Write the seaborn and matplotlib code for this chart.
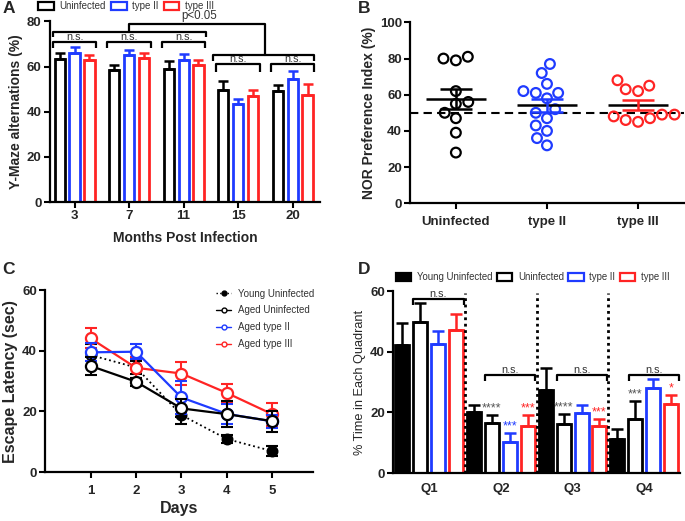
import numpy as np
import pandas as pd
import matplotlib
matplotlib.use('Agg')
import matplotlib.pyplot as plt
import seaborn as sns
from matplotlib.patches import Patch
from matplotlib.lines import Line2D

sns.set_theme(style='ticks')
plt.rcParams['font.family'] = ['Liberation Sans', 'DejaVu Sans']

BLACK = '#000000'
BLUE = '#1f3bff'
RED = '#ff2424'
TXT = '#333333'

# ---------------- Panel A data ----------------
months = ['3', '7', '11', '15', '20']
groups_a = ['Uninfected', 'type II', 'type III']
ymaze_uninf = [63.2, 58.6, 58.9, 49.5, 49.2]
ymaze_t2 = [66.0, 65.3, 63.1, 43.3, 54.3]
ymaze_t3 = [62.7, 63.9, 60.9, 47.0, 47.4]
ymaze_uninf_err = [3.0, 1.9, 3.5, 4.0, 2.8]
ymaze_t2_err = [2.8, 2.1, 2.5, 2.4, 3.7]
ymaze_t3_err = [2.5, 2.0, 1.8, 2.8, 5.0]

# ---------------- Panel B data ----------------
nor_groups = ['Uninfected', 'type II', 'type III']
nor_uninf = [80, 79, 81, 62, 56, 55, 50, 47, 39, 28]
nor_t2 = [77, 72, 66, 62, 61, 61, 58, 52, 50, 47, 43, 40, 36, 32]
nor_t3 = [68, 63, 62, 65, 49, 47, 45, 46, 48, 49]

# ---------------- Panel C data ----------------
days = [1, 2, 3, 4, 5]
c_groups = ['Young Uninfected', 'Aged Uninfected', 'Aged type II', 'Aged type III']
lat_young = [38.6, 34.5, 18.8, 10.9, 6.9]
lat_young_err = [3.5, 2.0, 3.0, 1.3, 1.7]
lat_aged = [35.0, 29.8, 21.0, 19.1, 16.8]
lat_aged_err = [3.0, 1.3, 3.0, 4.2, 3.5]
lat_t2 = [39.5, 39.7, 24.6, 19.2, 16.7]
lat_t2_err = [3.0, 2.5, 5.5, 3.4, 2.2]
lat_t3 = [44.1, 34.4, 32.5, 26.1, 19.1]
lat_t3_err = [3.3, 3.5, 3.7, 3.1, 3.8]

# ---------------- Panel D data ----------------
quadrants = ['Q1', 'Q2', 'Q3', 'Q4']
d_groups = ['Young Uninfected', 'Uninfected', 'type II', 'type III']
quad_young = [42.4, 20.0, 27.4, 11.2]
quad_young_err = [7.1, 2.4, 7.3, 3.5]
quad_uninf = [49.9, 16.6, 16.3, 17.9]
quad_uninf_err = [6.1, 2.7, 3.3, 5.9]
quad_t2 = [42.5, 10.2, 19.7, 28.2]
quad_t2_err = [4.4, 3.1, 2.9, 2.7]
quad_t3 = [47.1, 15.5, 15.5, 22.9]
quad_t3_err = [5.4, 3.8, 2.3, 2.8]
d_stars = [('Q2', 'Uninfected', '****'), ('Q2', 'type II', '***'), ('Q2', 'type III', '***'),
           ('Q3', 'Uninfected', '****'), ('Q3', 'type III', '***'),
           ('Q4', 'Uninfected', '***'), ('Q4', 'type III', '*')]

# ---------------- figure ----------------
fig = plt.figure(figsize=(6.85, 5.21), dpi=100)
axA = fig.add_axes([0.073, 0.612, 0.394, 0.347])
axB = fig.add_axes([0.599, 0.610, 0.399, 0.347])
axC = fig.add_axes([0.066, 0.094, 0.391, 0.349])
axD = fig.add_axes([0.574, 0.092, 0.419, 0.349])

TICKFS = 9.5
LABFS = 10


def style_axes(ax):
    sns.despine(ax=ax)
    for s in ['left', 'bottom']:
        ax.spines[s].set_linewidth(1.6)
        ax.spines[s].set_color('black')
    ax.tick_params(width=1.5, length=4, color='black', labelsize=TICKFS, pad=2)
    for lab in ax.get_xticklabels() + ax.get_yticklabels():
        lab.set_fontweight('bold')


def bracket(ax, x0, x1, y, h, lw=1.6):
    ax.plot([x0, x0, x1, x1], [y - h, y, y, y - h], color='black', lw=lw,
            clip_on=False, solid_capstyle='butt', zorder=5)


# ---------------- Panel A ----------------
pal_a = dict(zip(groups_a, [BLACK, BLUE, RED]))
dfA = pd.DataFrame({
    'month': months * 3,
    'group': np.repeat(groups_a, len(months)),
    'value': ymaze_uninf + ymaze_t2 + ymaze_t3,
})
errs_a = {'Uninfected': ymaze_uninf_err, 'type II': ymaze_t2_err, 'type III': ymaze_t3_err}
sns.barplot(data=dfA, x='month', y='value', hue='group', order=months, hue_order=groups_a,
            palette=pal_a, fill=False, width=0.82, gap=0.32, linewidth=2.0,
            errorbar=None, legend=False, ax=axA)
for cont, g in zip(axA.containers, groups_a):
    for bar, e in zip(cont, errs_a[g]):
        xc = bar.get_x() + bar.get_width() / 2
        axA.errorbar(xc, bar.get_height(), yerr=[[0], [e]], fmt='none', ecolor=pal_a[g],
                     elinewidth=1.8, capsize=3.6, capthick=1.8, zorder=3)
axA.set_xlim(-0.45, 4.5)
axA.set_ylim(0, 80)
axA.set_yticks([0, 20, 40, 60, 80])
axA.set_xlabel('Months Post Infection', fontsize=LABFS, fontweight='bold', labelpad=6)
axA.set_ylabel('Y-Maze alternations (%)', fontsize=LABFS, fontweight='bold', labelpad=3)
style_axes(axA)
# significance brackets
for i in range(3):
    bracket(axA, i - 0.4, i + 0.4, 70.7, 2.6)
    axA.text(i, 70.9, 'n.s.', ha='center', va='bottom', fontsize=7.8, color=TXT)
for i in range(3, 5):
    bracket(axA, i - 0.4, i + 0.4, 61.0, 3.2)
    axA.text(i, 61.2, 'n.s.', ha='center', va='bottom', fontsize=7.8, color=TXT)
bracket(axA, -0.39, 2.41, 75.3, 2.3)
bracket(axA, 2.54, 4.39, 65.0, 2.5)
axA.plot([1.0, 1.0, 3.49, 3.49], [75.3, 79.0, 79.0, 65.0], color='black', lw=1.6, clip_on=False, zorder=5)
axA.text(2.29, 79.6, 'p<0.05', ha='center', va='bottom', fontsize=8.3, color=TXT, clip_on=False)

hA = [Patch(facecolor='white', edgecolor=c, linewidth=1.6) for c in [BLACK, BLUE, RED]]
fig.legend(hA, groups_a, loc='center left', bbox_to_anchor=(0.056, 0.988), ncol=3, frameon=False,
           fontsize=7.0, handlelength=1.6, handleheight=0.9, handletextpad=0.6, columnspacing=0.5,
           labelcolor=TXT, borderaxespad=0, borderpad=0)

# ---------------- Panel B ----------------
pal_b = dict(zip(nor_groups, [BLACK, BLUE, RED]))
dfB = pd.DataFrame({
    'group': ['Uninfected'] * len(nor_uninf) + ['type II'] * len(nor_t2) + ['type III'] * len(nor_t3),
    'value': nor_uninf + nor_t2 + nor_t3,
})
sns.swarmplot(data=dfB, x='group', y='value', hue='group', order=nor_groups, hue_order=nor_groups,
              palette=pal_b, size=7.0, linewidth=1.6, legend=False, ax=axB, zorder=3)
for coll in axB.collections:
    fc = coll.get_facecolor()
    coll.set_edgecolor(fc)
    coll.set_facecolor('none')
    coll.set_linewidth(1.6)
axB.axhline(50, color='black', lw=1.5, ls=(0, (4, 2.5)), zorder=2)
for i, (g, vals) in enumerate(zip(nor_groups, [nor_uninf, nor_t2, nor_t3])):
    v = np.array(vals, dtype=float)
    m = v.mean()
    sem = v.std(ddof=1) / np.sqrt(len(v))
    axB.hlines(m, i - 0.33, i + 0.33, color='black', lw=1.8, zorder=4)
    axB.errorbar(i, m, yerr=sem, fmt='none', ecolor=pal_b[g], elinewidth=1.8,
                 capsize=11.5, capthick=1.8, zorder=4)
axB.set_xlim(-0.5, 2.5)
axB.set_ylim(0, 100)
axB.set_yticks([0, 20, 40, 60, 80, 100])
axB.set_xlabel('')
axB.set_ylabel('NOR Preference Index (%)', fontsize=LABFS, fontweight='bold', labelpad=3)
style_axes(axB)
axB.tick_params(axis='x', pad=5)

# ---------------- Panel C ----------------
dfC = pd.DataFrame({
    'day': days * 4,
    'group': np.repeat(c_groups, len(days)),
    'value': lat_young + lat_aged + lat_t2 + lat_t3,
})
c_cols = dict(zip(c_groups, [BLACK, BLACK, BLUE, RED]))
c_errs = dict(zip(c_groups, [lat_young_err, lat_aged_err, lat_t2_err, lat_t3_err]))
c_z = dict(zip(c_groups, [3, 6, 5, 4]))
for g in c_groups:
    sub = dfC[dfC['group'] == g]
    ls = ':' if g == 'Young Uninfected' else '-'
    sns.lineplot(data=sub, x='day', y='value', color=c_cols[g], linestyle=ls, lw=1.6 if ls == '-' else 1.3,
                 marker='o', markersize=8 if g != 'Young Uninfected' else 7,
                 markerfacecolor='white' if g != 'Young Uninfected' else 'black',
                 markeredgecolor=c_cols[g], markeredgewidth=1.6, errorbar=None, ax=axC, zorder=c_z[g])
    axC.errorbar(sub['day'], sub['value'], yerr=c_errs[g], fmt='none', ecolor=c_cols[g],
                 elinewidth=1.5, capsize=4.3, capthick=1.5, zorder=c_z[g] - 0.5)
axC.set_xlim(0, 5.9)
axC.set_ylim(0, 60)
axC.set_xticks(days)
axC.set_yticks([0, 20, 40, 60])
axC.set_xlabel('Days', fontsize=11.5, fontweight='bold', labelpad=3)
axC.set_ylabel('Escape Latency (sec)', fontsize=11.5, fontweight='bold', labelpad=3)
style_axes(axC)
axC.tick_params(axis='x', pad=5)
hC = [Line2D([0], [0], color=c_cols[g], ls=':' if g == 'Young Uninfected' else '-', lw=1.0,
             marker='o', markersize=3.5, markeredgewidth=1.0, markeredgecolor=c_cols[g],
             markerfacecolor='black' if g == 'Young Uninfected' else 'white') for g in c_groups]
axC.legend(hC, c_groups, loc='upper left', bbox_to_anchor=(0.625, 1.03), frameon=False, fontsize=7.0,
           handlelength=1.5, handletextpad=0.7, labelspacing=0.7, labelcolor=TXT, borderaxespad=0)

# ---------------- Panel D ----------------
pal_d = dict(zip(d_groups, [BLACK, BLACK, BLUE, RED]))
dfD = pd.DataFrame({
    'quadrant': quadrants * 4,
    'group': np.repeat(d_groups, len(quadrants)),
    'value': quad_young + quad_uninf + quad_t2 + quad_t3,
})
d_errs = dict(zip(d_groups, [quad_young_err, quad_uninf_err, quad_t2_err, quad_t3_err]))
sns.barplot(data=dfD, x='quadrant', y='value', hue='group', order=quadrants, hue_order=d_groups,
            palette=pal_d, width=1.0, gap=0.22, linewidth=2.0, errorbar=None, legend=False, ax=axD)
bar_tops = {}
for cont, g in zip(axD.containers, d_groups):
    for bar, e, q in zip(cont, d_errs[g], quadrants):
        if g == 'Young Uninfected':
            bar.set_facecolor('black')
        else:
            bar.set_facecolor('white')
        bar.set_edgecolor(pal_d[g])
        bar.set_linewidth(2.0)
        xc = bar.get_x() + bar.get_width() / 2
        axD.errorbar(xc, bar.get_height(), yerr=[[0], [e]], fmt='none', ecolor=pal_d[g],
                     elinewidth=1.8, capsize=4.2, capthick=1.8, zorder=3)
        bar_tops[(q, g)] = (xc, bar.get_height() + e)
for q, g, s in d_stars:
    xc, top = bar_tops[(q, g)]
    col = '#555555' if g == 'Uninfected' else pal_d[g]
    axD.text(xc, top + 0.2, s, ha='center', va='bottom', fontsize=9, color=col)
for b in [0.5, 1.5, 2.5]:
    axD.plot([b, b], [0, 59.5], color='black', lw=2.0, ls=(0, (1, 1.3)), zorder=4)
bracket(axD, -0.22, 0.48, 57.3, 2.0)
axD.text(0.13, 57.5, 'n.s.', ha='center', va='bottom', fontsize=7.8, color=TXT)
for qi in [1, 2, 3]:
    bracket(axD, qi - 0.22, qi + 0.48, 32.2, 1.9)
    axD.text(qi + 0.13, 32.4, 'n.s.', ha='center', va='bottom', fontsize=7.8, color=TXT)
axD.set_xlim(-0.5, 3.5)
axD.set_ylim(0, 60)
axD.set_yticks([0, 20, 40, 60])
axD.set_xlabel('')
axD.set_ylabel('% Time in Each Quadrant', fontsize=9.2, labelpad=3)
style_axes(axD)
axD.tick_params(axis='x', length=0, pad=7)

hD = [Patch(facecolor='black', edgecolor='black', linewidth=1.6)] + \
     [Patch(facecolor='white', edgecolor=c, linewidth=1.6) for c in [BLACK, BLUE, RED]]
fig.legend(hD, d_groups, loc='center left', bbox_to_anchor=(0.578, 0.468), ncol=4, frameon=False,
           fontsize=6.9, handlelength=1.6, handleheight=0.9, handletextpad=0.6, columnspacing=0.45,
           labelcolor=TXT, borderaxespad=0, borderpad=0)

# panel letters
for lbl, x, y in [('A', 0.004, 0.998), ('B', 0.522, 0.998), ('C', 0.004, 0.497), ('D', 0.522, 0.497)]:
    fig.text(x, y, lbl, fontsize=12.5, fontweight='bold', va='top', ha='left')

fig.savefig('out.png', dpi=100)
